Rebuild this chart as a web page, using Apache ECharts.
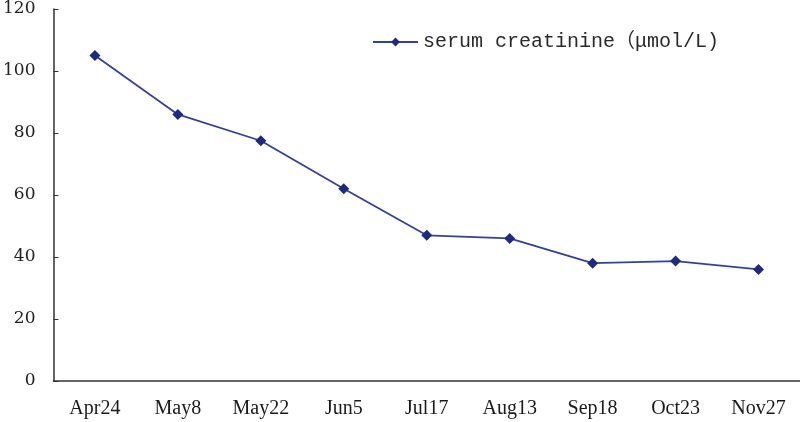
<!DOCTYPE html>
<html><head><meta charset="utf-8">
<script src="https://cdn.jsdelivr.net/npm/echarts@6/dist/echarts.min.js"></script>
<style>html,body{margin:0;padding:0;background:#fff}#c{width:800px;height:422px}</style>
</head><body><div id="c"></div>
<script>
const categories = ['Apr24','May8','May22','Jun5','Jul17','Aug13','Sep18','Oct23','Nov27'];
const seriesName = 'serum creatinine（μmol/L)';
const creatinine = [105, 86, 77.5, 62, 47, 46, 38, 38.7, 36];
const yTicks = [0, 20, 40, 60, 80, 100, 120];

const chart = echarts.init(document.getElementById('c'));
chart.setOption({
  animation: false,
  backgroundColor: '#fff',
  grid: { left: 53, right: 0, top: 9, bottom: 41 },
  legend: {
    data: [seriesName], left: 367, top: 27, itemWidth: 45, itemHeight: 11, itemGap: 6,
    textStyle: { fontFamily: 'Liberation Mono, Noto Sans CJK SC', fontSize: 20, color: '#2a2a2a' }
  },
  xAxis: {
    type: 'category', data: categories, boundaryGap: true,
    axisLine: { lineStyle: { color: '#333', width: 1.5 } },
    axisTick: { show: false },
    axisLabel: { fontFamily: 'Liberation Serif', fontSize: 20, color: '#1a1a1a', margin: 18 }
  },
  yAxis: {
    type: 'value', min: yTicks[0], max: yTicks[yTicks.length-1], interval: 20,
    axisLine: { show: true, lineStyle: { color: '#333', width: 1.5 } },
    axisTick: { show: true, inside: true, length: 5, lineStyle: { color: '#333' } },
    splitLine: { show: false },
    axisLabel: { fontFamily: 'DejaVu Serif', fontSize: 17, color: '#222', margin: 18 }
  },
  series: [{
    name: seriesName, type: 'line', data: creatinine,
    symbol: 'diamond', symbolSize: 11,
    lineStyle: { color: '#3440a0', width: 1.8 },
    itemStyle: { color: '#1d2a80' }
  }]
});
</script></body></html>
